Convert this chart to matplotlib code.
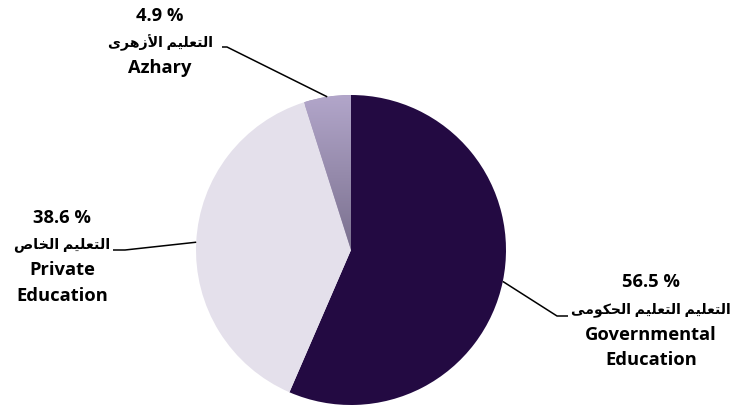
import numpy as np
import matplotlib
matplotlib.use("Agg")
import matplotlib.pyplot as plt
from matplotlib.colors import LinearSegmentedColormap

# ---- data ----
categories_en = ["Governmental\nEducation", "Private\nEducation", "Azhary"]
categories_ar = ["التعليم التعليم الحكومى", "التعليم الخاص", "التعليم الأزهرى"]
values = [56.5, 38.6, 4.9]
colors = ["#230A42", "#E4E0EB", "#A396B8"]

# ---- minimal Arabic shaping (presentation forms) ----
FORMS = {
    'ا': ('\uFE8D', '\uFE8E', None, None),
    'أ': ('\uFE83', '\uFE84', None, None),
    'ل': ('\uFEDD', '\uFEDE', '\uFEDF', '\uFEE0'),
    'ت': ('\uFE95', '\uFE96', '\uFE97', '\uFE98'),
    'ع': ('\uFEC9', '\uFECA', '\uFECB', '\uFECC'),
    'ي': ('\uFEF1', '\uFEF2', '\uFEF3', '\uFEF4'),
    'م': ('\uFEE1', '\uFEE2', '\uFEE3', '\uFEE4'),
    'ز': ('\uFEAF', '\uFEB0', None, None),
    'ه': ('\uFEE9', '\uFEEA', '\uFEEB', '\uFEEC'),
    'ر': ('\uFEAD', '\uFEAE', None, None),
    'ى': ('\uFEEF', '\uFEF0', None, None),
    'خ': ('\uFEA5', '\uFEA6', '\uFEA7', '\uFEA8'),
    'ص': ('\uFEB9', '\uFEBA', '\uFEBB', '\uFEBC'),
    'ح': ('\uFEA1', '\uFEA2', '\uFEA3', '\uFEA4'),
    'ك': ('\uFED9', '\uFEDA', '\uFEDB', '\uFEDC'),
    'و': ('\uFEED', '\uFEEE', None, None),
}
LAM_ALEF = {'ا': ('\uFEFB', '\uFEFC'), 'أ': ('\uFEF7', '\uFEF8')}


def shape(text):
    toks = []
    i = 0
    while i < len(text):
        c = text[i]
        if c == 'ل' and i + 1 < len(text) and text[i + 1] in LAM_ALEF:
            toks.append(('LA', text[i + 1]))
            i += 2
            continue
        toks.append(('C', c))
        i += 1

    def is_ar(t):
        return t[0] == 'LA' or t[1] in FORMS

    def dual(t):
        return t[0] == 'C' and t[1] in FORMS and FORMS[t[1]][2] is not None

    out = []
    for k, t in enumerate(toks):
        if not is_ar(t):
            out.append(t[1])
            continue
        jp = k > 0 and is_ar(toks[k - 1]) and dual(toks[k - 1])
        jn = dual(t) and k + 1 < len(toks) and is_ar(toks[k + 1])
        if t[0] == 'LA':
            out.append(LAM_ALEF[t[1]][1 if jp else 0])
            continue
        f = FORMS[t[1]]
        if jp and jn:
            out.append(f[3])
        elif jp:
            out.append(f[1])
        elif jn:
            out.append(f[2])
        else:
            out.append(f[0])
    return ''.join(out)[::-1]


# ---- figure ----
W, H, DPI = 731, 408, 100
fig = plt.figure(figsize=(W / DPI, H / DPI), dpi=DPI)
ax = fig.add_axes([0, 0, 1, 1])
cx, cy, R = 351, 250, 155

wedges, _ = ax.pie(values, colors=colors, startangle=90, counterclock=False,
                   radius=1, center=(0, 0), frame=True)
ax.set_xlim(-cx / R, (W - cx) / R)
ax.set_ylim(-(H - cy) / R, cy / R)
ax.set_aspect("equal")
ax.axis("off")

# gradient on the Azhary wedge
wz = wedges[2]
grad = np.linspace(0, 1, 256).reshape(-1, 1)
cmap = LinearSegmentedColormap.from_list("g", ["#B2A6CA", "#7A708E"])
im = ax.imshow(grad, cmap=cmap, extent=(-0.3, 0.05, 0.0, 1.0), origin="upper",
               aspect="auto", zorder=wz.get_zorder() + 0.1)
im.set_clip_path(wz)

# ---- labels with leader lines ----
fam = ["Open Sans", "DejaVu Sans"]
fs_en = 13.2
fs_ar = [10.1, 10.3, 10.2]
# (text center x_px, list of line y_px, elbow px, end px)
layout = [
    (651, [282, 310, 335, 360], (557, 316), (568, 316)),
    (62, [218, 245, 270, 296], (125, 250), (113, 250)),
    (160, [16, 43, 68], (227, 47), (222, 47)),
]


def px(x, y):
    return ((x - cx) / R, (cy - y) / R)


angle = 90.0
for i, (v, lay) in enumerate(zip(values, layout)):
    mid = np.deg2rad(angle - v * 3.6 / 2)
    angle -= v * 3.6
    p0 = (np.cos(mid), np.sin(mid))
    e1 = px(*lay[2])
    e2 = px(*lay[3])
    ax.plot([p0[0], e1[0], e2[0]], [p0[1], e1[1], e2[1]], color="black", lw=1.1,
            zorder=5, solid_capstyle="butt")
    lines = ["%.1f %%" % v, shape(categories_ar[i])] + categories_en[i].split("\n")
    sizes = [fs_en, fs_ar[i]] + [fs_en] * (len(lines) - 2)
    tx = (lay[0] - cx) / R
    for s, yy, f in zip(lines, lay[1], sizes):
        ax.text(tx, (cy - yy) / R, s, ha="center", va="center", fontsize=f,
                fontweight="bold", family=fam, color="black", zorder=6)

fig.savefig("out.png", dpi=DPI)
